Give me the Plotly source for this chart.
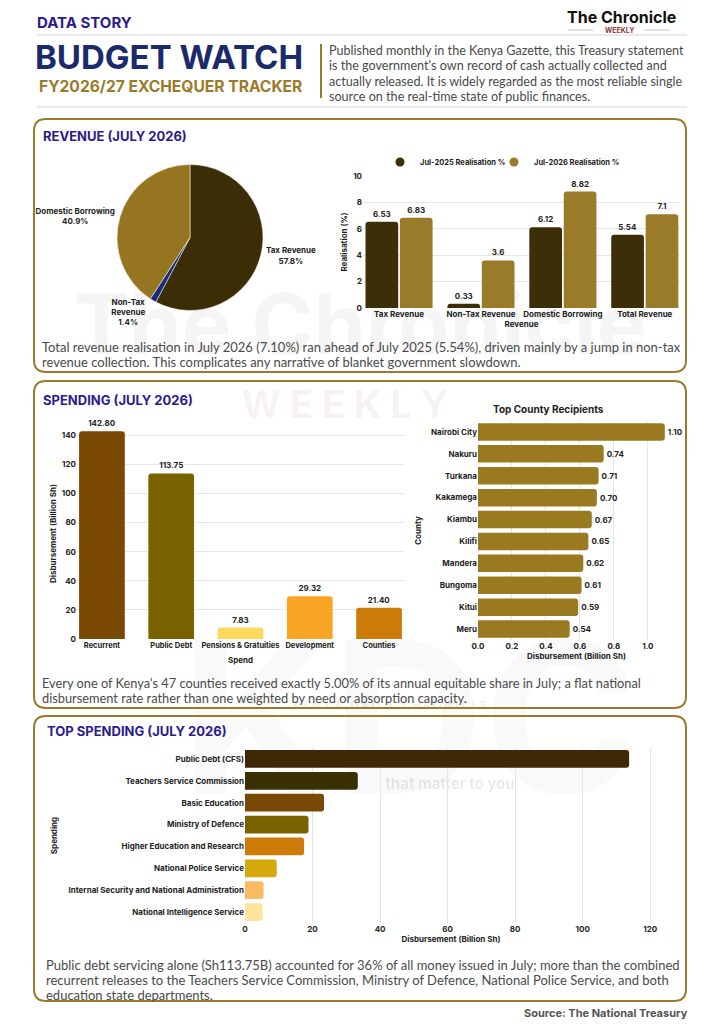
import plotly.graph_objects as go

W, H = 724, 1024

# ---- data ----
pie_labels = ['Tax Revenue', 'Non-Tax<br>Revenue', 'Domestic Borrowing']
pie_values = [57.8, 1.4, 40.9]

rev_categories = ['Tax Revenue', 'Non-Tax Revenue', 'Domestic Borrowing', 'Total Revenue']
real_2025 = [6.53, 0.33, 6.12, 5.54]
real_2026 = [6.83, 3.6, 8.82, 7.1]

spend_categories = ['Recurrent', 'Public Debt', 'Pensions & Gratuities', 'Development', 'Counties']
spend_values = [142.80, 113.75, 7.83, 29.32, 21.40]

county_names = ['Nairobi City', 'Nakuru', 'Turkana', 'Kakamega', 'Kiambu',
                'Kilifi', 'Mandera', 'Bungoma', 'Kitui', 'Meru']
county_values = [1.10, 0.74, 0.71, 0.70, 0.67, 0.65, 0.62, 0.61, 0.59, 0.54]

top_names = ['Public Debt (CFS)', 'Teachers Service Commission', 'Basic Education',
             'Ministry of Defence', 'Higher Education and Research', 'National Police Service',
             'Internal Security and National Administration', 'National Intelligence Service']
top_values = [113.75, 33.4, 23.4, 18.8, 17.5, 9.4, 5.5, 5.2]

# ---- style ----
NAVY = '#2b1b8e'
DEEP_NAVY = '#1b2a6b'
GOLD = '#9a7b2a'
DARK = '#3c2f08'
BODY = '#4a4a4a'
GRID = '#e6e6e6'
FONT = 'Inter'
BODY_FONT = 'Lato'

pie_colors = ['#3b2e07', '#1a2a78', '#967520']
spend_colors = ['#7a4805', '#7a6200', '#fcd95c', '#f8a424', '#cc7a08']
county_color = '#9a7a20'
top_colors = ['#3e2806', '#3a3006', '#7a4805', '#7a6200', '#cc7a08',
              '#d4a90c', '#f9ba62', '#fde59c']


def fx(px):
    return px / W


def fy(py):
    return 1 - py / H


def rounded_box(x0, y0, x1, y1, r=12):
    return (f"M {fx(x0 + r)},{fy(y0)} L {fx(x1 - r)},{fy(y0)} "
            f"Q {fx(x1)},{fy(y0)} {fx(x1)},{fy(y0 + r)} L {fx(x1)},{fy(y1 - r)} "
            f"Q {fx(x1)},{fy(y1)} {fx(x1 - r)},{fy(y1)} L {fx(x0 + r)},{fy(y1)} "
            f"Q {fx(x0)},{fy(y1)} {fx(x0)},{fy(y1 - r)} L {fx(x0)},{fy(y0 + r)} "
            f"Q {fx(x0)},{fy(y0)} {fx(x0 + r)},{fy(y0)} Z")


tick_font = dict(size=8, color='#222', family=FONT, weight='bold')
title_font = dict(size=8, color='#222', family=FONT, weight='bold')
label_font = dict(size=8, color='#222', family=FONT, weight='bold')

fig = go.Figure()

# ── Revenue pie ─────────────────────────────
fig.add_trace(go.Pie(
    labels=pie_labels, values=pie_values, sort=False, direction='clockwise',
    marker=dict(colors=pie_colors, line=dict(color='white', width=0.5)),
    texttemplate='%{label}<br>%{value}%', textposition='outside',
    textfont=label_font, automargin=False,
    domain=dict(x=[fx(117), fx(263)], y=[fy(311), fy(164)]),
    showlegend=False, hoverinfo='skip',
))

# ── Revenue realisation bars ─────────────────
fig.add_trace(go.Bar(
    x=rev_categories, y=real_2025, name='Jul-2025 Realisation %', marker_color=DARK,
    textposition='outside', texttemplate='%{y}', textfont=label_font,
    cliponaxis=False, showlegend=False, xaxis='x', yaxis='y',
))
fig.add_trace(go.Bar(
    x=rev_categories, y=real_2026, name='Jul-2026 Realisation %', marker_color=GOLD,
    textposition='outside', texttemplate='%{y}', textfont=label_font,
    cliponaxis=False, showlegend=False, xaxis='x', yaxis='y',
))
# legend entries drawn as circles, one legend each so they sit close together
for nm, col, lg in [('Jul-2025 Realisation %', DARK, 'legend'),
                    ('Jul-2026 Realisation %', GOLD, 'legend2')]:
    fig.add_trace(go.Scatter(
        x=[None], y=[None], mode='markers', name=nm, legend=lg,
        marker=dict(color=col, size=9, symbol='circle'), xaxis='x', yaxis='y',
    ))

# ── Spending bars ────────────────────────────
fig.add_trace(go.Bar(
    x=spend_categories, y=spend_values, marker_color=spend_colors, width=0.66,
    texttemplate='%{y:.2f}', textposition='outside', textfont=label_font,
    cliponaxis=False, showlegend=False, xaxis='x2', yaxis='y2',
))

# ── Top county recipients ───────────────────
fig.add_trace(go.Bar(
    x=county_values, y=county_names, orientation='h', marker_color=county_color, width=0.8,
    texttemplate='%{x:.2f}', textposition='outside', textfont=label_font,
    cliponaxis=False, showlegend=False, xaxis='x3', yaxis='y3',
))

# ── Top spending ─────────────────────────────
fig.add_trace(go.Bar(
    x=top_values, y=top_names, orientation='h', marker_color=top_colors, width=0.81,
    showlegend=False, xaxis='x4', yaxis='y4',
))

# ── shapes: panels, rules, watermarks ───────
shapes = []
wm = [
    ('The Chronicle', 30, 290, 690, 350, 84, 'rgba(0,0,0,0.04)'),
    ('W E E K L Y', 190, 380, 500, 425, 38, 'rgba(150,60,60,0.07)'),
    ('KDC', 200, 600, 620, 820, 210, 'rgba(0,0,0,0.025)'),
    ('K E N Y A   D A I L Y   C H R O N I C L E', 220, 698, 560, 712, 11, 'rgba(0,0,0,0.08)'),
    ('that matter to you', 370, 774, 530, 792, 15, 'rgba(0,0,0,0.09)'),
]
for txt, x0, y0, x1, y1, sz, col in wm:
    shapes.append(dict(
        type='rect', xref='paper', yref='paper', layer='below',
        x0=fx(x0), x1=fx(x1), y0=fy(y1), y1=fy(y0),
        line=dict(width=0), fillcolor='rgba(0,0,0,0)',
        label=dict(text=txt, textposition='middle center',
                   font=dict(size=sz, color=col, family=FONT, weight='bold')),
    ))
for y0, y1 in [(119, 372), (381, 708), (716, 1001)]:
    shapes.append(dict(type='path', xref='paper', yref='paper', path=rounded_box(34, y0, 686, y1),
                       line=dict(color=GOLD, width=2), fillcolor='rgba(0,0,0,0)'))
for y in [35, 107]:
    shapes.append(dict(type='line', xref='paper', yref='paper', x0=fx(37), x1=fx(687),
                       y0=fy(y), y1=fy(y), line=dict(color='#d4d4d4', width=1)))
shapes.append(dict(type='line', xref='paper', yref='paper', x0=fx(321), x1=fx(321),
                   y0=fy(44), y1=fy(98), line=dict(color=GOLD, width=2)))
for a, b in [(568, 593), (644, 670)]:
    shapes.append(dict(type='line', xref='paper', yref='paper', x0=fx(a), x1=fx(b),
                       y0=fy(30), y1=fy(30), line=dict(color='#bbbbbb', width=0.8)))

# ── annotations ─────────────────────────────
ann = []


def text(x, y, s, size, color, family=FONT, weight='normal', xanchor='left'):
    ann.append(dict(x=fx(x), y=fy(y), xref='paper', yref='paper', text=s, showarrow=False,
                    xanchor=xanchor, yanchor='middle', align=xanchor,
                    font=dict(size=size, color=color, family=family, weight=weight)))


text(35, 22, 'DATA STORY', 15, NAVY, weight='bold')
text(621, 17, 'The Chronicle', 16, '#111', weight='bold', xanchor='center')
text(619, 30, 'WEEKLY', 7, '#8a3a32', weight='bold', xanchor='center')
text(33, 57, 'BUDGET WATCH', 33, DEEP_NAVY, weight='bold')
text(37, 86, 'FY2026/27 EXCHEQUER TRACKER', 15.6, GOLD, weight='bold')
header_lines = [
    'Published monthly in the Kenya Gazette, this Treasury statement',
    "is the government's own record of cash actually collected and",
    'actually released. It is widely regarded as the most reliable single',
    'source on the real-time state of public finances.',
]
for i, ln in enumerate(header_lines):
    text(327, 50 + i * 15.6, ln, 12.6, BODY, family=BODY_FONT)

text(41, 136, 'REVENUE (JULY 2026)', 13, NAVY, weight='bold')
text(40, 347, 'Total revenue realisation in July 2026 (7.10%) ran ahead of July 2025 (5.54%), '
              'driven mainly by a jump in non-tax', 13, BODY, family=BODY_FONT)
text(40, 362, 'revenue collection. This complicates any narrative of blanket government slowdown.',
     13, BODY, family=BODY_FONT)

text(41, 400, 'SPENDING (JULY 2026)', 13, NAVY, weight='bold')
text(548, 409, 'Top County Recipients', 10, '#222', weight='bold', xanchor='center')
text(40, 683, "Every one of Kenya's 47 counties received exactly 5.00% of its annual equitable share "
              "in July; a flat national", 12.8, BODY, family=BODY_FONT)
text(40, 698, 'disbursement rate rather than one weighted by need or absorption capacity.',
     12.8, BODY, family=BODY_FONT)

text(45, 731, 'TOP SPENDING (JULY 2026)', 13, NAVY, weight='bold')
top_text = [
    'Public debt servicing alone (Sh113.75B) accounted for 36% of all money issued in July; '
    'more than the combined',
    'recurrent releases to the Teachers Service Commission, Ministry of Defence, National Police '
    'Service, and both',
    'education state departments.',
]
for i, ln in enumerate(top_text):
    text(44, 965 + i * 15, ln, 13, BODY, family=BODY_FONT)
text(690, 1013, 'Source: The National Treasury', 11, '#555', weight='bold', xanchor='right')


def axis(**kw):
    base = dict(automargin=False, tickfont=tick_font, zeroline=False, showline=False,
                ticks='', gridcolor=GRID, gridwidth=1)
    base.update(kw)
    return base


legend_style = dict(orientation='h', yanchor='middle', y=fy(162), xanchor='left',
                    font=dict(size=7.5, color='#222', family=FONT, weight='bold'),
                    bgcolor='rgba(0,0,0,0)', borderwidth=0)

# ── layout ───────────────────────────────────
fig.update_layout(
    template='none',
    width=W, height=H, margin=dict(l=0, r=0, t=0, b=0, autoexpand=False),
    paper_bgcolor='white', plot_bgcolor='rgba(0,0,0,0)',
    font=dict(family=FONT, color='#222'),
    barmode='group', bargap=0.16, bargroupgap=0.05, barcornerradius=3,
    shapes=shapes, annotations=ann,
    legend=dict(legend_style, x=fx(380)),
    legend2=dict(legend_style, x=fx(494)),
    xaxis=axis(domain=[fx(363), fx(680)], anchor='y', showgrid=False, range=[-0.44, 3.43],
               title=dict(text='Revenue', font=title_font, standoff=2)),
    yaxis=axis(domain=[fy(308), fy(176)], anchor='x', range=[0, 10], dtick=2,
               title=dict(text='Realisation (%)', font=title_font, standoff=4)),
    xaxis2=axis(domain=[fx(77), fx(404)], anchor='y2', showgrid=False, tickangle=0,
                range=[-0.36, 4.36], tickfont=dict(tick_font, size=7.5),
                title=dict(text='Spend', font=title_font, standoff=8)),
    yaxis2=axis(domain=[fy(639), fy(428)], anchor='x2', range=[0, 145], dtick=20,
                title=dict(text='Disbursement (Billion Sh)', font=title_font, standoff=3)),
    xaxis3=axis(domain=[fx(478), fx(675)], anchor='y3', range=[0, 1.16],
                tickvals=[0, 0.2, 0.4, 0.6, 0.8, 1.0],
                ticktext=['0.0', '0.2', '0.4', '0.6', '0.8', '1.0'],
                title=dict(text='Disbursement (Billion Sh)', font=title_font, standoff=2)),
    yaxis3=axis(domain=[fy(640), fy(421)], anchor='x3', autorange='reversed', showgrid=False,
                title=dict(text='County', font=title_font, standoff=8)),
    xaxis4=axis(domain=[fx(245), fx(657)], anchor='y4', range=[0, 122], dtick=20,
                title=dict(text='Disbursement (Billion Sh)', font=title_font, standoff=2)),
    yaxis4=axis(domain=[fy(923), fy(748)], anchor='x4', autorange='reversed', showgrid=False,
                title=dict(text='Spending', font=title_font, standoff=9)),
)

fig.write_html('out.html', config={'displayModeBar': False},
               post_script="document.body.style.margin='0';document.body.style.overflow='hidden';")
